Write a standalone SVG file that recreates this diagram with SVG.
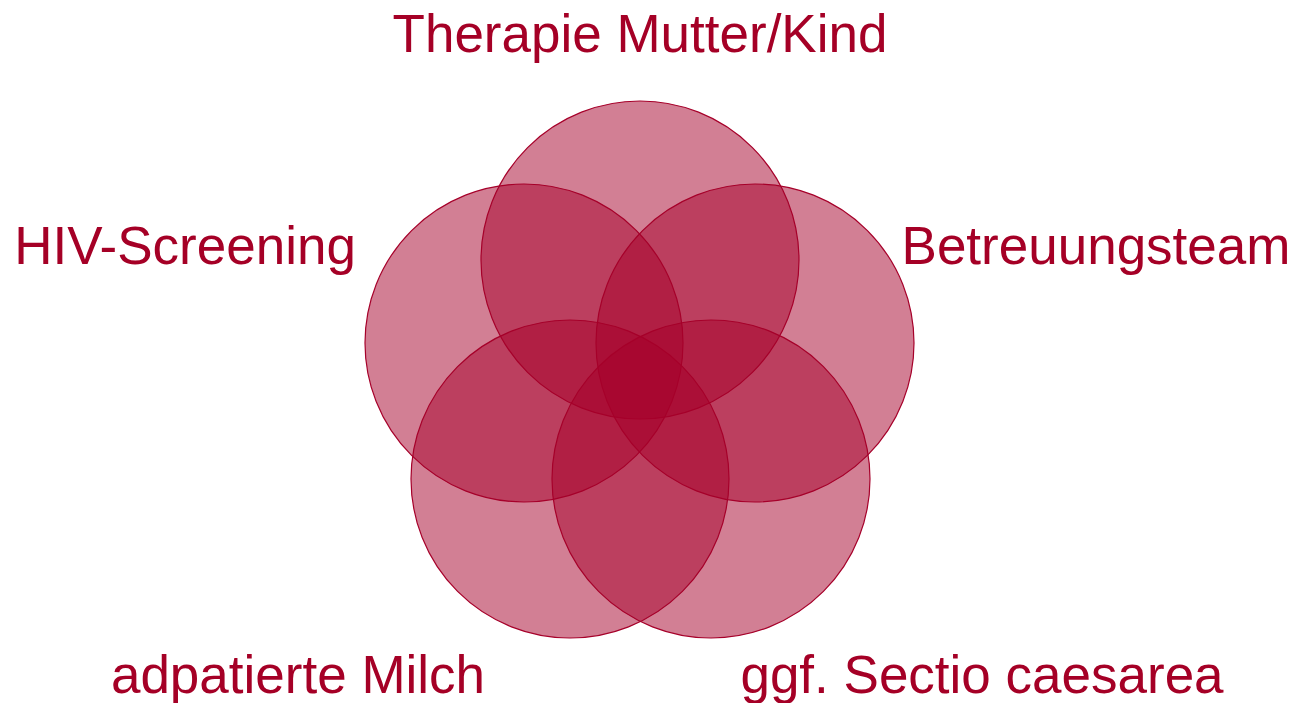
<svg xmlns="http://www.w3.org/2000/svg" width="1296" height="703" viewBox="0 0 1296 703">
  <style>
    .ring { fill: #a6002a; fill-opacity: 0.5; stroke: #a6002a; stroke-width: 1.2; }
    .label { font-family: "Liberation Sans", Arial, sans-serif; font-size: 53px; fill: #a50026; text-anchor: middle; }
  </style>
  <rect width="1296" height="703" fill="#ffffff"/>
  <g id="circle-top"><circle class="ring" cx="640" cy="260" r="159"/></g>
  <g id="circle-left"><circle class="ring" cx="524" cy="343" r="159"/></g>
  <g id="circle-right"><circle class="ring" cx="755" cy="343" r="159"/></g>
  <g id="circle-bottom-left"><circle class="ring" cx="570" cy="479" r="159"/></g>
  <g id="circle-bottom-right"><circle class="ring" cx="711" cy="479" r="159"/></g>
  <g id="labels">
    <text class="label" x="640" y="52">Therapie Mutter/Kind</text>
    <text class="label" x="185" y="264">HIV-Screening</text>
    <text class="label" x="1096" y="264">Betreuungsteam</text>
    <text class="label" x="298" y="693">adpatierte Milch</text>
    <text class="label" x="982" y="693">ggf. Sectio caesarea</text>
  </g>
</svg>
